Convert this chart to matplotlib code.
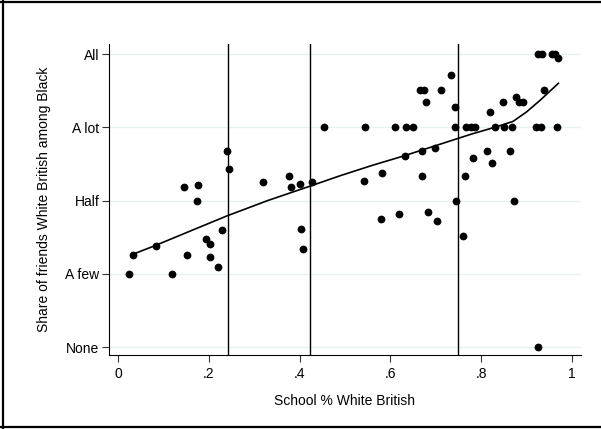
import matplotlib.pyplot as plt
from matplotlib.lines import Line2D

plt.rcParams["font.family"] = ["Liberation Sans", "DejaVu Sans"]

# school share white british (x) vs friends share (0=None .. 4=All)
school_wb = [
    0.924,
    0.024, 0.120, 0.220,
    0.032, 0.151, 0.203,
    0.083, 0.203, 0.194, 0.408,
    0.228, 0.402, 0.761,
    0.580, 0.618, 0.683, 0.703,
    0.173, 0.744, 0.872,
    0.146, 0.177, 0.319, 0.376, 0.380, 0.401, 0.428,
    0.542, 0.581, 0.670, 0.764,
    0.239, 0.244,
    0.632, 0.670, 0.698, 0.783, 0.812, 0.824, 0.863,
    0.454, 0.544, 0.610, 0.634, 0.650, 0.742, 0.767, 0.777, 0.786,
    0.830, 0.850, 0.868, 0.921, 0.932, 0.966,
    0.819, 0.847, 0.877, 0.884, 0.893,
    0.678, 0.742, 0.665, 0.674, 0.711, 0.938, 0.733,
    0.925, 0.933, 0.955, 0.963, 0.970,
]
friends_wb = [
    0.0,
    1.0, 1.0, 1.09,
    1.25, 1.26, 1.23,
    1.38, 1.41, 1.47, 1.34,
    1.60, 1.61, 1.51,
    1.75, 1.81, 1.84, 1.72,
    2.0, 2.0, 2.0,
    2.19, 2.21, 2.25, 2.34, 2.19, 2.22, 2.25,
    2.26, 2.38, 2.34, 2.34,
    2.68, 2.43,
    2.61, 2.68, 2.72, 2.58, 2.68, 2.51, 2.68,
    3.0, 3.0, 3.0, 3.0, 3.0, 3.0, 3.0, 3.0, 3.0,
    3.0, 3.0, 3.0, 3.0, 3.0, 3.0,
    3.21, 3.34, 3.41, 3.34, 3.34,
    3.34, 3.28, 3.51, 3.51, 3.51, 3.51, 3.72,
    4.0, 4.0, 4.0, 4.0, 3.95,
]

# smoothed fit
fit_x = [0.03, 0.08, 0.15, 0.24, 0.33, 0.42, 0.49, 0.56, 0.63, 0.67, 0.74,
         0.78, 0.83, 0.87, 0.90, 0.93, 0.97]
fit_y = [1.26, 1.38, 1.56, 1.79, 2.00, 2.19, 2.34, 2.48, 2.61, 2.69, 2.83,
         2.91, 3.00, 3.08, 3.21, 3.37, 3.60]

cutoffs = [0.242, 0.423, 0.748]

y_levels = [0, 1, 2, 3, 4]
y_labels = ["None", "A few", "Half", "A lot", "All"]
x_ticks = [0, 0.2, 0.4, 0.6, 0.8, 1.0]
x_labels = ["0", ".2", ".4", ".6", ".8", "1"]

W, H = 601, 429
fig = plt.figure(figsize=(W / 100, H / 100), dpi=100)
fig.patch.set_facecolor("white")
ax = fig.add_axes([109 / W, (H - 355) / H, (581 - 109) / W, (355 - 44) / H])

for lv in y_levels:
    ax.axhline(lv, color="#e8f0f2", linewidth=1.0, zorder=0)

for c in cutoffs:
    ax.axvline(c, color="black", linewidth=1.0, zorder=2)

ax.plot(fit_x, fit_y, color="black", linewidth=1.2, zorder=3)
ax.plot(school_wb, friends_wb, "o", color="black", markersize=5.6,
        markeredgewidth=0, zorder=4)

ax.set_xlim(-0.0198, 1.0198)
ax.set_ylim(-0.109, 4.137)
ax.set_xticks(x_ticks)
ax.set_xticklabels(x_labels)
ax.set_yticks(y_levels)
ax.set_yticklabels(y_labels)
ax.tick_params(axis="both", length=5, width=0.8, color="#333333",
               labelsize=10, labelcolor="black", pad=2)
ax.tick_params(axis="x", pad=4)

ax.spines["top"].set_visible(False)
ax.spines["right"].set_visible(False)
for s in ("left", "bottom"):
    ax.spines[s].set_linewidth(0.8)
    ax.spines[s].set_color("black")

ax.set_xlabel("School % White British", fontsize=10, labelpad=9)
ax.set_ylabel("Share of friends White British among Black", fontsize=10, labelpad=10)

# outer frame (left, top, bottom)
fig.add_artist(Line2D([3 / W, 3 / W], [0, 1], color="black", linewidth=1.6,
                      transform=fig.transFigure))
fig.add_artist(Line2D([0, 1], [1 - 2 / H, 1 - 2 / H], color="black", linewidth=1.6,
                      transform=fig.transFigure))
fig.add_artist(Line2D([0, 1], [1 - 427 / H, 1 - 427 / H], color="black",
                      linewidth=1.6, transform=fig.transFigure))

fig.savefig("out.png", dpi=100, facecolor="white")
